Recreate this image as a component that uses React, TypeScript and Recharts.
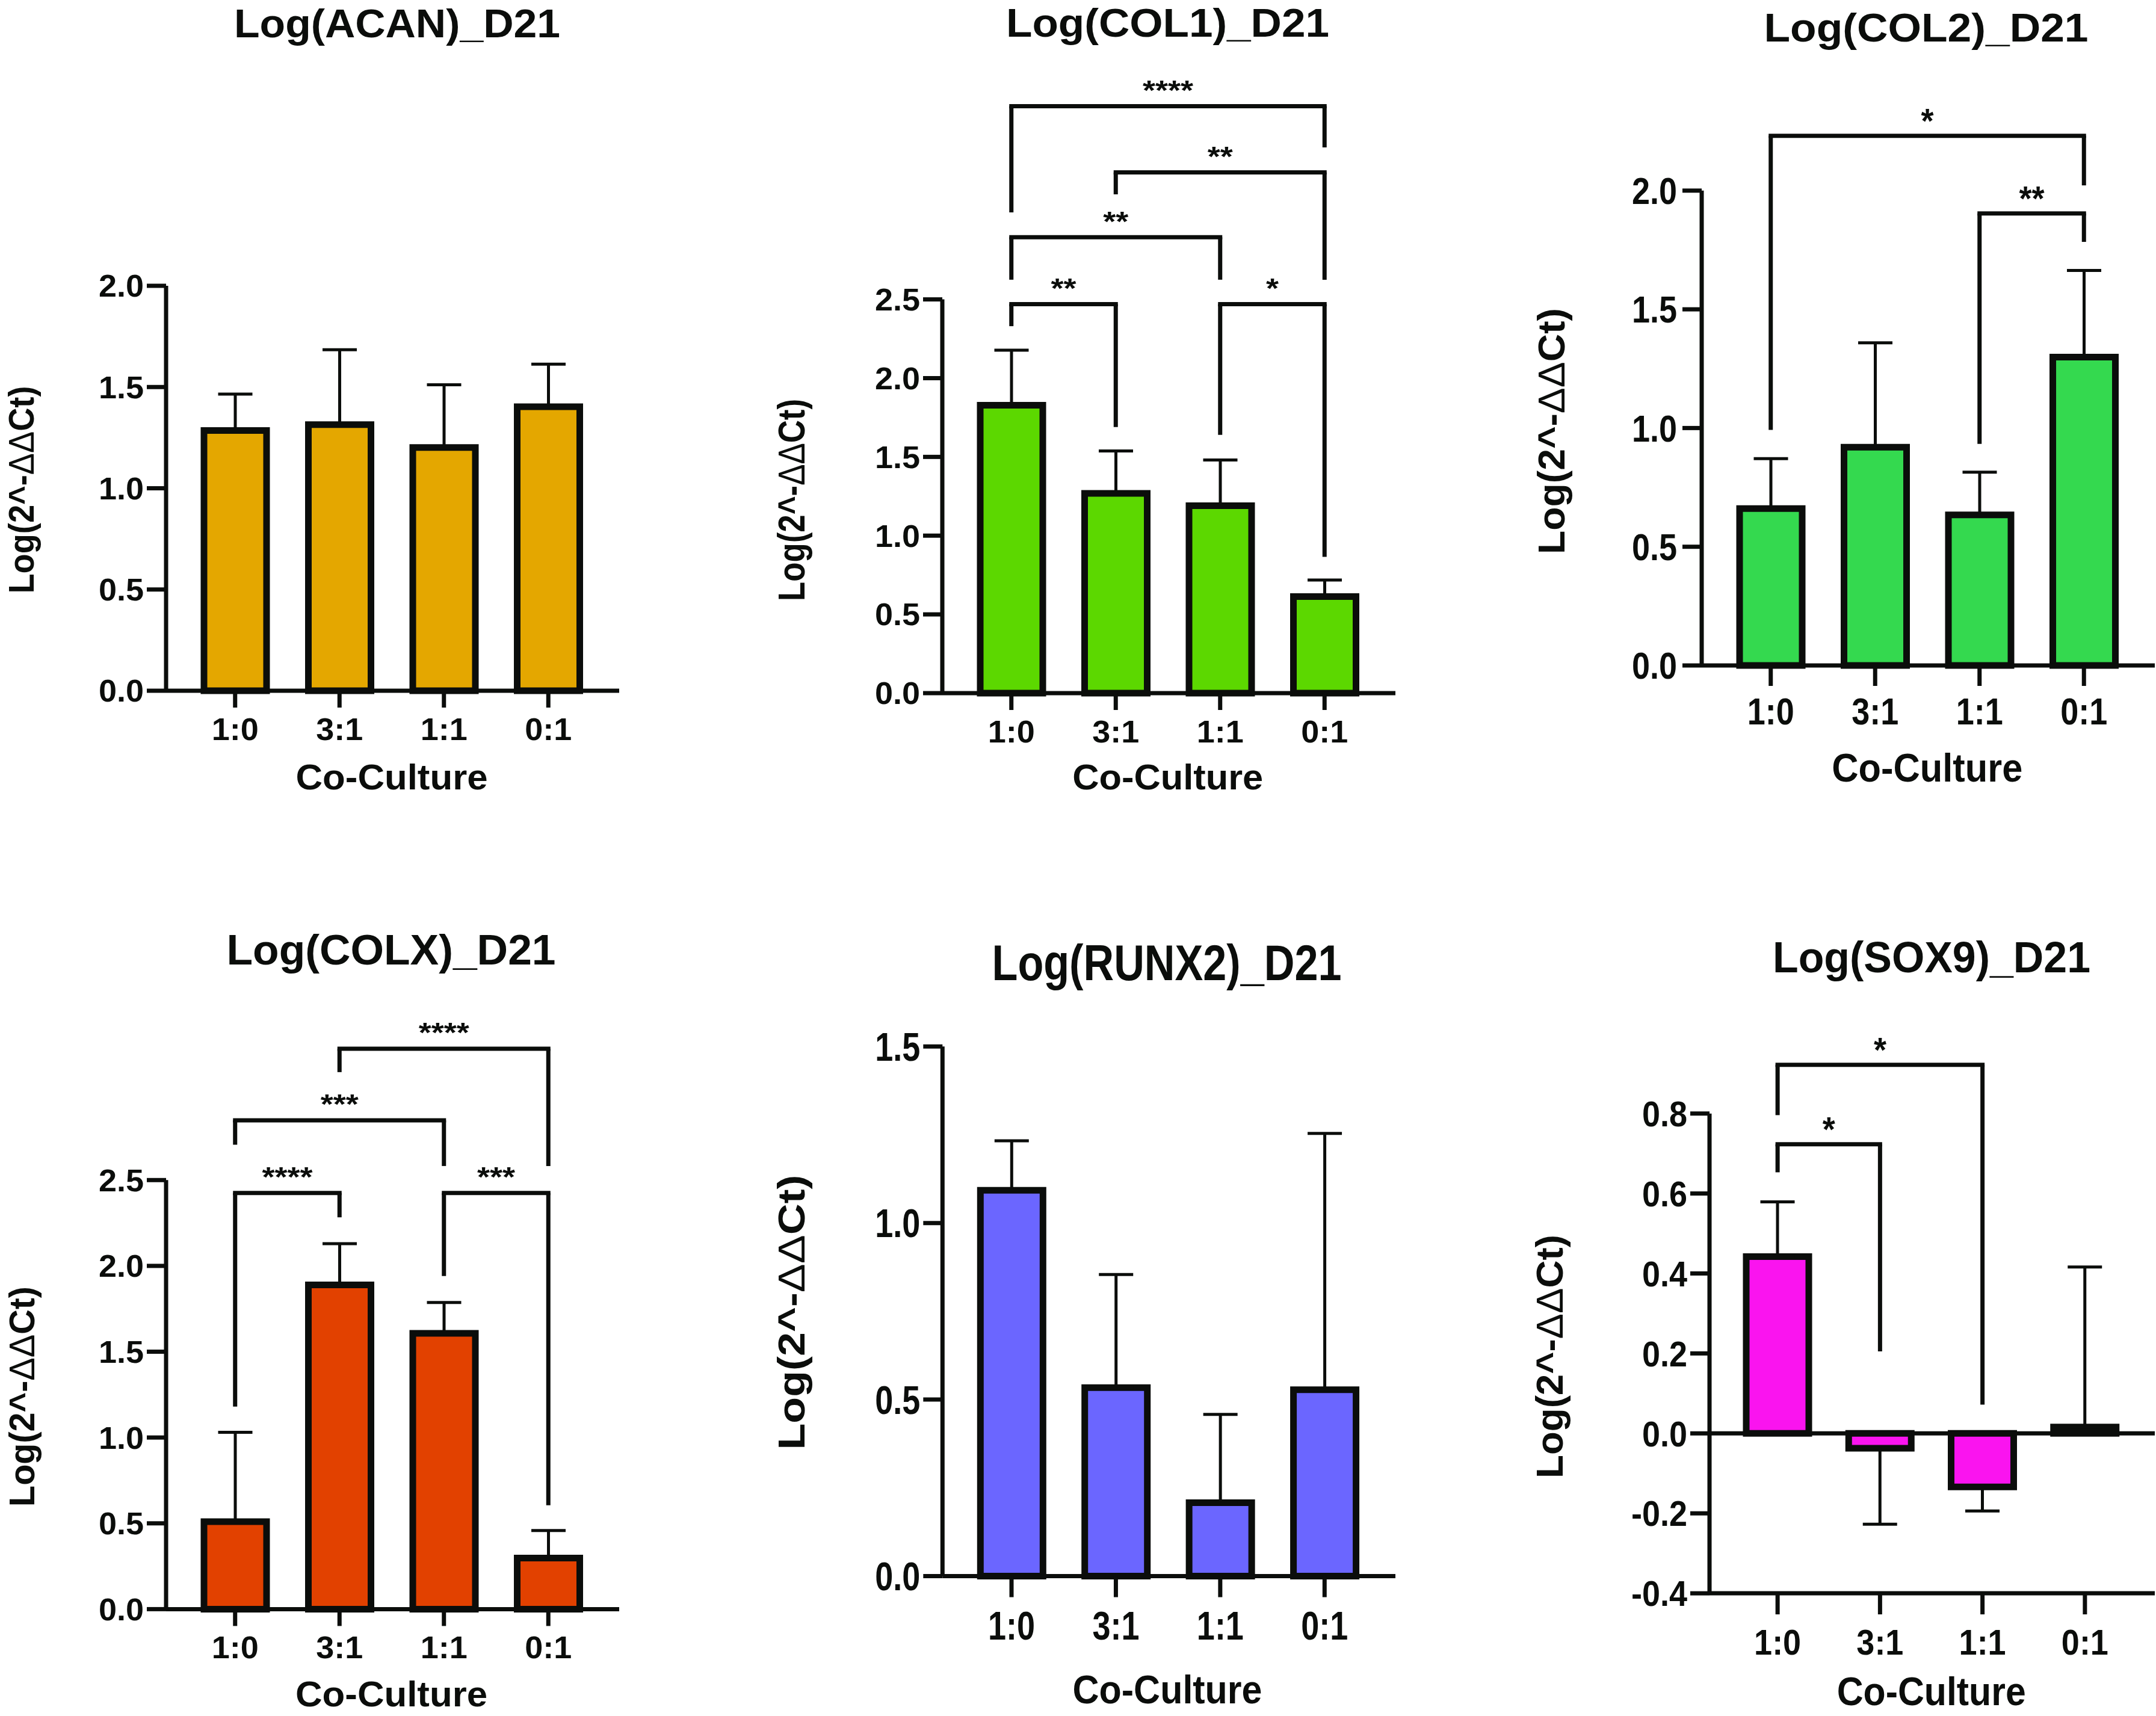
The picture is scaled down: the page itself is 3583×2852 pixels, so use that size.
import React from 'react';
import { BarChart, Bar, XAxis, YAxis, ErrorBar, ReferenceLine } from 'recharts';

// ---------------- data ----------------
const categories = ['1:0', '3:1', '1:1', '0:1'];

const acanMean = [1.285, 1.314, 1.201, 1.403];
const acanSD = [0.18, 0.37, 0.31, 0.21];

const col1Mean = [1.828, 1.268, 1.19, 0.613];
const col1SD = [0.35, 0.27, 0.29, 0.105];

const col2Mean = [0.661, 0.919, 0.634, 1.299];
const col2SD = [0.21, 0.44, 0.18, 0.365];

const colxMean = [0.51, 1.889, 1.607, 0.298];
const colxSD = [0.52, 0.24, 0.18, 0.16];

const runx2Mean = [1.093, 0.534, 0.208, 0.528];
const runx2SD = [0.14, 0.32, 0.25, 0.726];

const sox9Mean = [0.442, -0.037, -0.134, 0.016];
const sox9SD = [0.137, 0.19, 0.06, 0.4];

const ticks0to2 = [0, 0.5, 1, 1.5, 2];
const ticks0to25 = [0, 0.5, 1, 1.5, 2, 2.5];
const ticks0to15 = [0, 0.5, 1, 1.5];
const ticksSox9 = [-0.4, -0.2, 0, 0.2, 0.4, 0.6, 0.8];

// significance brackets: a/b = compared groups, h = bracket height, la/lb = leg ends
const col1Brackets = [
  { a: '1:0', b: '3:1', h: 2.47, la: 2.33, lb: 1.69, s: '**' },
  { a: '1:1', b: '0:1', h: 2.47, la: 1.64, lb: 0.865, s: '*' },
  { a: '1:0', b: '1:1', h: 2.895, la: 2.625, lb: 2.625, s: '**' },
  { a: '3:1', b: '0:1', h: 3.306, la: 3.167, lb: 2.625, s: '**' },
  { a: '1:0', b: '0:1', h: 3.727, la: 3.052, lb: 3.465, s: '****' },
];
const col2Brackets = [
  { a: '1:0', b: '0:1', h: 2.231, la: 0.992, lb: 2.022, s: '*' },
  { a: '1:1', b: '0:1', h: 1.904, la: 0.933, lb: 1.784, s: '**' },
];
const colxBrackets = [
  { a: '1:0', b: '3:1', h: 2.425, la: 1.18, lb: 2.283, s: '****' },
  { a: '1:1', b: '0:1', h: 2.425, la: 1.941, lb: 0.605, s: '***' },
  { a: '1:0', b: '1:1', h: 2.848, la: 2.706, lb: 2.582, s: '***' },
  { a: '3:1', b: '0:1', h: 3.265, la: 3.129, lb: 2.582, s: '****' },
];
const sox9Brackets = [
  { a: '1:0', b: '3:1', h: 0.723, la: 0.653, lb: 0.205, s: '*' },
  { a: '1:0', b: '1:1', h: 0.922, la: 0.796, lb: 0.072, s: '*' },
];

const titles = ['Log(ACAN)_D21', 'Log(COL1)_D21', 'Log(COL2)_D21', 'Log(COLX)_D21', 'Log(RUNX2)_D21', 'Log(SOX9)_D21'];
const xAxisTitle = 'Co-Culture';
const yAxisTitle = ['Log(2^-', 'ΔΔ', 'Ct)'];

// ---------------- style ----------------
const INK = '#0b0d0b';
const FONT = '"Liberation Sans", Arial, Helvetica, sans-serif';
const TICK_FS = 54;

type Br = { a: string; b: string; h: number; la: number; lb: number; s: string };

interface PanelCfg {
  title: string;
  mean: number[];
  sd: number[];
  color: string;
  domain: [number, number];
  ticks: number[];
  brackets: Br[];
  zeroLine?: boolean;
  box: { x: number; y: number; w: number; h: number };
  plot: { left: number; right: number; top: number; bottom: number };
  k: number;
  starK: number;
  xTickSize: number;
  xTickMargin: number;
  yTickMargin: number;
  titleT: { cx: number; base: number; fs: number; len: number; k: number };
  xlab: { cx: number; base: number; fs: number; len: number; k: number };
  ylab: { x: number; cy: number; fs: number; len: number };
}

const panels: PanelCfg[] = [
  {
    title: titles[0], mean: acanMean, sd: acanSD, color: '#E4A700', domain: [0, 2], ticks: ticks0to2, brackets: [],
    box: { x: 0, y: 0, w: 1240, h: 1450 }, plot: { left: 276, right: 1029, top: 475, bottom: 1148 },
    k: 0.95, starK: 0.85, xTickSize: 28, xTickMargin: 17, yTickMargin: 5,
    titleT: { cx: 660, base: 62, fs: 67, len: 542, k: 1 },
    xlab: { cx: 651, base: 1312, fs: 59, len: 319, k: 1 },
    ylab: { x: 56, cy: 814, fs: 59, len: 345 },
  },
  {
    title: titles[1], mean: col1Mean, sd: col1SD, color: '#5CD800', domain: [0, 2.5], ticks: ticks0to25, brackets: col1Brackets,
    box: { x: 1240, y: 0, w: 1250, h: 1450 }, plot: { left: 1566, right: 2319, top: 497.6, bottom: 1152 },
    k: 0.95, starK: 0.85, xTickSize: 28, xTickMargin: 17, yTickMargin: 5,
    titleT: { cx: 1940.5, base: 61, fs: 66, len: 537, k: 1 },
    xlab: { cx: 1940.7, base: 1312, fs: 59, len: 317, k: 1 },
    ylab: { x: 1336.5, cy: 831, fs: 63, len: 336 },
  },
  {
    title: titles[2], mean: col2Mean, sd: col2SD, color: '#34D94F', domain: [0, 2], ticks: ticks0to2, brackets: col2Brackets,
    box: { x: 2490, y: 0, w: 1093, h: 1450 }, plot: { left: 2828, right: 3581, top: 316.8, bottom: 1106 },
    k: 1.15, starK: 1.05, xTickSize: 34, xTickMargin: 20, yTickMargin: 9,
    titleT: { cx: 3201, base: 69, fs: 66, len: 539, k: 1 },
    xlab: { cx: 3202.8, base: 1299, fs: 61, len: 317, k: 1.1 },
    ylab: { x: 2600, cy: 716.5, fs: 63, len: 409 },
  },
  {
    title: titles[3], mean: colxMean, sd: colxSD, color: '#E24100', domain: [0, 2.5], ticks: ticks0to25, brackets: colxBrackets,
    box: { x: 0, y: 1450, w: 1240, h: 1402 }, plot: { left: 276, right: 1029, top: 1961.3, bottom: 2674.4 },
    k: 0.95, starK: 0.85, xTickSize: 28, xTickMargin: 17, yTickMargin: 5,
    titleT: { cx: 650, base: 1603, fs: 70, len: 547, k: 1 },
    xlab: { cx: 650.5, base: 2836, fs: 59, len: 319, k: 1 },
    ylab: { x: 57, cy: 2321, fs: 59, len: 366 },
  },
  {
    title: titles[4], mean: runx2Mean, sd: runx2SD, color: '#6B66FF', domain: [0, 1.5], ticks: ticks0to15, brackets: [],
    box: { x: 1240, y: 1450, w: 1250, h: 1402 }, plot: { left: 1566.3, right: 2319, top: 1739.3, bottom: 2619.5 },
    k: 1.22, starK: 1.05, xTickSize: 35, xTickMargin: 23, yTickMargin: 5,
    titleT: { cx: 1939, base: 1629, fs: 70, len: 581, k: 1.2 },
    xlab: { cx: 1940, base: 2831, fs: 61, len: 315, k: 1.08 },
    ylab: { x: 1337, cy: 2181, fs: 63, len: 457 },
  },
  {
    title: titles[5], mean: sox9Mean, sd: sox9SD, color: '#FA14EF', domain: [-0.4, 0.8], ticks: ticksSox9, brackets: sox9Brackets,
    zeroLine: true,
    box: { x: 2490, y: 1450, w: 1093, h: 1402 }, plot: { left: 2841, right: 3581, top: 1850.7, bottom: 2648.1 },
    k: 1.1, starK: 1.05, xTickSize: 35, xTickMargin: 24, yTickMargin: 5,
    titleT: { cx: 3210, base: 1616, fs: 68, len: 528, k: 1.07 },
    xlab: { cx: 3209.7, base: 2834, fs: 61, len: 314, k: 1.1 },
    ylab: { x: 2597, cy: 2254.5, fs: 63, len: 405 },
  },
];

// ---------------- pieces ----------------
const XTick = (props: any) => {
  const { x, y, payload, k } = props;
  return (
    <text
      transform={`translate(${x},${y}) scale(1,${k})`}
      textAnchor="middle"
      dy={0.716 * TICK_FS}
      fontSize={TICK_FS}
      fontWeight={700}
      fontFamily={FONT}
      fill={INK}
    >
      {payload.value}
    </text>
  );
};

const YTick = (props: any) => {
  const { x, y, payload, k } = props;
  return (
    <text
      transform={`translate(${x},${y}) scale(1,${k})`}
      textAnchor="end"
      dy={0.358 * TICK_FS}
      fontSize={TICK_FS}
      fontWeight={700}
      fontFamily={FONT}
      fill={INK}
    >
      {Number(payload.value).toFixed(1)}
    </text>
  );
};

const StarLabel = (props: any) => {
  const { viewBox, text, k } = props;
  if (!viewBox) return null;
  const cx = viewBox.x + (viewBox.width || 0) / 2;
  const fs = 54;
  const off = 35 - 0.53 * fs * k;
  return (
    <text
      transform={`translate(${cx},${viewBox.y - off}) scale(1,${k})`}
      textAnchor="middle"
      fontSize={fs}
      fontWeight={700}
      fontFamily={FONT}
      fill={INK}
    >
      {text}
    </text>
  );
};

const XTitle = (props: any) => {
  const { cfg } = props as { cfg: PanelCfg };
  const x = cfg.xlab.cx - cfg.box.x;
  const y = cfg.xlab.base - cfg.box.y;
  return (
    <text
      transform={`translate(${x},${y}) scale(1,${cfg.xlab.k})`}
      textAnchor="middle"
      fontSize={cfg.xlab.fs}
      fontWeight={700}
      fontFamily={FONT}
      fill={INK}
      textLength={cfg.xlab.len}
      lengthAdjust="spacingAndGlyphs"
    >
      {xAxisTitle}
    </text>
  );
};

const YTitle = (props: any) => {
  const { cfg } = props as { cfg: PanelCfg };
  const x = cfg.ylab.x - cfg.box.x;
  const y = cfg.ylab.cy - cfg.box.y;
  return (
    <text
      transform={`translate(${x},${y}) rotate(-90)`}
      textAnchor="middle"
      fontSize={cfg.ylab.fs}
      fontWeight={700}
      fontFamily={FONT}
      fill={INK}
      textLength={cfg.ylab.len}
      lengthAdjust="spacingAndGlyphs"
    >
      {yAxisTitle[0]}
      <tspan fontWeight={400}>{yAxisTitle[1]}</tspan>
      {yAxisTitle[2]}
    </text>
  );
};

function Panel({ cfg }: { cfg: PanelCfg }) {
  const data = categories.map((c, i) => ({
    cat: c,
    v: cfg.mean[i],
    err: cfg.mean[i] >= 0 ? [0, cfg.sd[i]] : [cfg.sd[i], 0],
  }));
  const { box, plot } = cfg;
  const yAxisWidth = plot.left - box.x;
  const mTop = plot.top - box.y;
  const mRight = box.x + box.w - plot.right;
  const xAxisHeight = box.y + box.h - plot.bottom;
  const lineStyle = { stroke: INK, strokeWidth: 7 };

  const bracketLines: any[] = [];
  cfg.brackets.forEach((br, i) => {
    bracketLines.push(
      <ReferenceLine
        key={`bh${i}`}
        segment={[{ x: br.a, y: br.h }, { x: br.b, y: br.h }]}
        stroke={INK}
        strokeWidth={7}
        strokeLinecap="square"
        ifOverflow="visible"
        label={<StarLabel text={br.s} k={cfg.starK} />}
      />
    );
    bracketLines.push(
      <ReferenceLine
        key={`bl${i}`}
        segment={[{ x: br.a, y: br.h }, { x: br.a, y: br.la }]}
        stroke={INK}
        strokeWidth={7}
        ifOverflow="visible"
      />
    );
    bracketLines.push(
      <ReferenceLine
        key={`br${i}`}
        segment={[{ x: br.b, y: br.h }, { x: br.b, y: br.lb }]}
        stroke={INK}
        strokeWidth={7}
        ifOverflow="visible"
      />
    );
  });

  return (
    <div style={{ position: 'absolute', left: box.x, top: box.y, width: box.w, height: box.h, overflow: 'visible' }}>
      <BarChart
        width={box.w}
        height={box.h}
        data={data}
        margin={{ top: mTop, right: mRight, bottom: 0, left: 0 }}
        style={{ overflow: 'visible' }}
      >
        <XAxis
          dataKey="cat"
          type="category"
          height={xAxisHeight}
          padding={{ left: 28, right: 31 }}
          interval={0}
          tickSize={cfg.xTickSize}
          tickMargin={cfg.xTickMargin}
          axisLine={lineStyle}
          tickLine={lineStyle}
          tick={(p: any) => <XTick {...p} k={cfg.k} />}
          label={<XTitle cfg={cfg} />}
        />
        <YAxis
          type="number"
          domain={cfg.domain}
          ticks={cfg.ticks}
          interval={0}
          width={yAxisWidth}
          tickSize={32}
          tickMargin={cfg.yTickMargin}
          axisLine={lineStyle}
          tickLine={lineStyle}
          tick={(p: any) => <YTick {...p} k={cfg.k} />}
          label={<YTitle cfg={cfg} />}
        />
        {cfg.zeroLine ? <ReferenceLine y={0} stroke={INK} strokeWidth={7} /> : null}
        <Bar dataKey="v" fill={cfg.color} stroke={INK} strokeWidth={11} barSize={104} isAnimationActive={false}>
          <ErrorBar dataKey="err" direction="y" width={28.5} stroke={INK} strokeWidth={5} isAnimationActive={false} />
        </Bar>
        {bracketLines}
      </BarChart>
    </div>
  );
}

export default function App() {
  return (
    <div style={{ position: 'absolute', left: 0, top: 0, width: 3583, height: 2852, background: '#ffffff', overflow: 'hidden' }}>
      {panels.map((p) => (
        <Panel key={p.title} cfg={p} />
      ))}
      <svg width={3583} height={2852} style={{ position: 'absolute', left: 0, top: 0, pointerEvents: 'none' }}>
        {panels.map((p) => (
          <text
            key={p.title}
            transform={`translate(${p.titleT.cx},${p.titleT.base}) scale(1,${p.titleT.k})`}
            textAnchor="middle"
            fontSize={p.titleT.fs}
            fontWeight={700}
            fontFamily={FONT}
            fill={INK}
            textLength={p.titleT.len}
            lengthAdjust="spacingAndGlyphs"
          >
            {p.title}
          </text>
        ))}
      </svg>
    </div>
  );
}
